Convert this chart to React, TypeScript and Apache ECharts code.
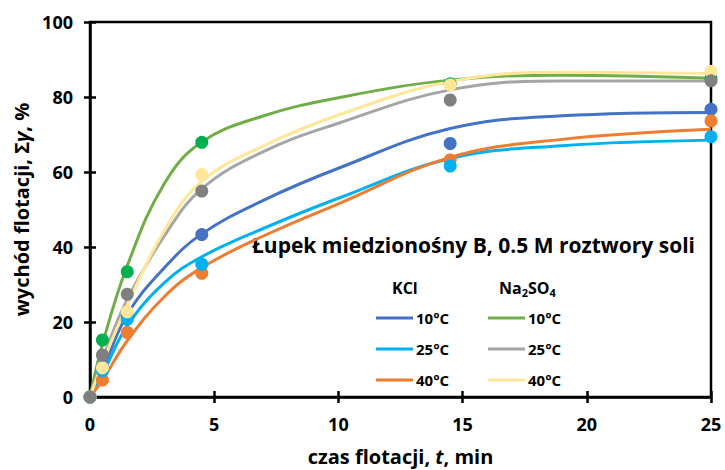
import React, { useEffect, useRef } from "react";
import * as echarts from "echarts";

const pointT = [0, 0.5, 1.5, 4.5, 14.5, 25];
const kcl10Pts = [0, 8, 21.5, 43.3, 67.6, 76.7];
const kcl25Pts = [0, 7, 20.7, 35.4, 61.6, 69.4];
const kcl40Pts = [0, 4.5, 17.2, 33, 63.2, 73.6];
const na10Pts = [0, 15.2, 33.4, 67.9, 83.5, 85];
const na25Pts = [0, 11.2, 27.4, 54.9, 79.2, 84.3];
const na40Pts = [0, 7.8, 22.7, 59.3, 83.2, 86.8];

const curveT = [0, 0.5, 1.5, 3, 4.5, 7, 10, 14.5, 19, 25];
const kcl10Curve = [0, 7, 22, 34.5, 43.5, 52.5, 61, 71.6, 75, 75.9];
const kcl25Curve = [0, 6, 19, 30.5, 37.4, 45, 53, 63.6, 67, 68.5];
const kcl40Curve = [0, 4.5, 15, 26.8, 34.5, 43, 51.5, 63.9, 68.7, 71.4];
const na10Curve = [0, 14, 35, 57, 68, 75, 79.8, 84.5, 85.8, 85];
const na25Curve = [0, 10, 26, 43, 55.5, 65.5, 73, 81.9, 84.3, 84.3];
const na40Curve = [0, 9, 24.5, 44.5, 57.5, 67, 75.2, 84.1, 86.6, 86.3];

const tempLabels = ["10°C", "25°C", "40°C"];
const xTicks = { min: 0, max: 25, interval: 5 };
const yTicks = { min: 0, max: 100, interval: 20 };

const FONT = "'Open Sans', sans-serif";

export default function App() {
  const ref = useRef<HTMLDivElement>(null);
  useEffect(() => {
    if (!ref.current) return;
    const chart = echarts.init(ref.current, null, { renderer: "svg" });
    const pairs = (ts: number[], vs: number[]) => ts.map((t, i) => [t, vs[i]]);
    const lineDefs = [
      { name: "KCl " + tempLabels[0], color: "#4472C4", data: kcl10Curve },
      { name: "KCl " + tempLabels[1], color: "#00B0F0", data: kcl25Curve },
      { name: "KCl " + tempLabels[2], color: "#ED7D31", data: kcl40Curve },
      { name: "Na2SO4 " + tempLabels[0], color: "#70AD47", data: na10Curve },
      { name: "Na2SO4 " + tempLabels[1], color: "#A5A5A5", data: na25Curve },
      { name: "Na2SO4 " + tempLabels[2], color: "#FFE699", data: na40Curve },
    ];
    const ptDefs = [
      { color: "#4472C4", data: kcl10Pts },
      { color: "#ED7D31", data: kcl40Pts },
      { color: "#00B0F0", data: kcl25Pts },
      { color: "#00B050", data: na10Pts },
      { color: "#FFE699", data: na40Pts },
      { color: "#808080", data: na25Pts },
    ];
    const series: any[] = [];
    lineDefs.forEach((d) => {
      series.push({
        name: d.name,
        type: "line",
        smooth: 0.4,
        symbol: "none",
        data: pairs(curveT, d.data),
        lineStyle: { color: d.color, width: 3 },
        itemStyle: { color: d.color },
        z: 2,
      });
    });
    ptDefs.forEach((d) => {
      series.push({
        type: "scatter",
        symbol: "circle",
        symbolSize: 13,
        data: pairs(pointT, d.data),
        itemStyle: { color: d.color, opacity: 1 },
        z: 3,
      });
    });
    const axisLabel = { color: "#000", fontFamily: FONT, fontWeight: "bold", fontSize: 18 };
    const nameStyle = {
      color: "#000",
      fontFamily: FONT,
      fontWeight: "bold",
      fontSize: 20,
      rich: {
        i: { fontFamily: FONT, fontWeight: "bold", fontStyle: "italic", fontSize: 20, color: "#000" },
      },
    };
    const legendBase = {
      orient: "vertical",
      itemWidth: 37,
      itemHeight: 3,
      itemGap: 11,
      icon: "rect",
      textStyle: { color: "#000", fontFamily: FONT, fontWeight: "bold", fontSize: 15, padding: [0, 0, 0, -2], lineHeight: 20 },
      formatter: (n: string) => n.split(" ")[1],
    };
    const tickStyle = { color: "#000", width: 2.5 };
    chart.setOption({
      animation: false,
      grid: {
        left: 90,
        right: 14,
        top: 22,
        bottom: 73,
        containLabel: false,
        outerBoundsMode: "none",
        show: true,
        borderColor: "#000",
        borderWidth: 2.5,
      },
      xAxis: [
        {
          type: "value",
          ...xTicks,
          axisLine: { lineStyle: tickStyle },
          axisTick: { show: true, length: 6, lineStyle: tickStyle },
          splitLine: { show: false },
          axisLabel: { ...axisLabel, margin: 18 },
          name: "czas flotacji, {i|t}, min",
          nameLocation: "middle",
          nameGap: 49,
          nameTextStyle: nameStyle,
        },
        {
          type: "value",
          ...xTicks,
          position: "bottom",
          axisLine: { show: false },
          axisTick: { show: true, inside: true, length: 6, lineStyle: tickStyle },
          axisLabel: { show: false },
          splitLine: { show: false },
        },
      ],
      yAxis: [
        {
          type: "value",
          ...yTicks,
          axisLine: { show: true, lineStyle: tickStyle },
          axisTick: { show: true, length: 6, lineStyle: tickStyle },
          splitLine: { show: false },
          axisLabel: { ...axisLabel, margin: 17 },
          name: "wychód flotacji, Σ{i|γ}, %",
          nameLocation: "middle",
          nameGap: 54,
          nameTextStyle: nameStyle,
        },
        {
          type: "value",
          ...yTicks,
          position: "left",
          axisLine: { show: false },
          axisTick: { show: true, inside: true, length: 6, lineStyle: tickStyle },
          axisLabel: { show: false },
          splitLine: { show: false },
        },
      ],
      legend: [
        { ...legendBase, left: 371, top: 303, data: lineDefs.slice(0, 3).map((d) => d.name) },
        { ...legendBase, left: 483, top: 303, data: lineDefs.slice(3).map((d) => d.name) },
      ],
      graphic: [
        {
          type: "text",
          left: 252,
          top: 234,
          style: {
            text: "Łupek miedzionośny B, 0.5 M roztwory soli",
            fill: "#000",
            font: `bold 21px ${FONT}`,
          },
        },
        {
          type: "text",
          left: 392,
          top: 280,
          style: { text: "KCl", fill: "#000", font: `bold 16px ${FONT}` },
        },
        {
          type: "text",
          left: 499,
          top: 280,
          style: {
            text: "Na{s|2}SO{s|4}",
            fill: "#000",
            font: `bold 16px ${FONT}`,
            rich: {
              s: { fontSize: 11, fontWeight: "bold", fontFamily: FONT, fill: "#000", padding: [9, 0, 0, 0] },
            },
          },
        },
      ],
      series,
    });
    return () => chart.dispose();
  }, []);
  return <div ref={ref} style={{ width: 725, height: 470, position: "absolute", left: 0, top: 0 }} />;
}
